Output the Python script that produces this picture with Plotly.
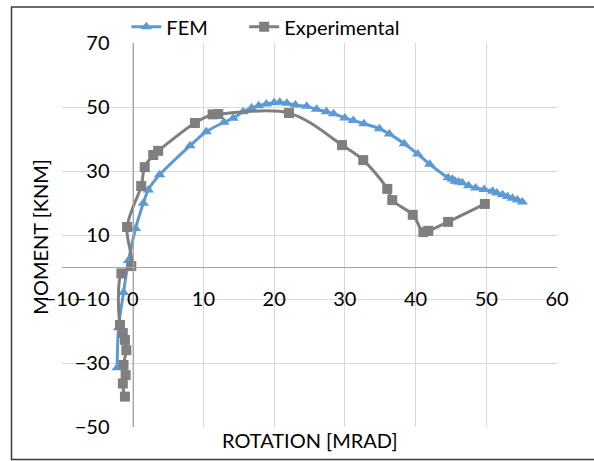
import plotly.graph_objects as go

# FEM series (rotation in mrad, moment in kNm)
fem_x = [-2.2, -2.0, -1.3, -0.6, 0.4, 1.5, 2.2, 3.8, 8.1, 10.4, 12.9, 14.2, 15.6, 16.8,
         17.8, 18.9, 20.0, 20.8, 21.8, 23.0, 24.6, 26.0, 27.4, 28.4, 30.0, 31.2, 32.7,
         34.9, 36.3, 38.4, 40.3, 42.0, 44.6, 45.2, 45.6, 46.1, 46.6, 47.5, 48.5, 49.7,
         50.9, 51.5, 52.3, 53.0, 53.7, 54.4, 55.1]
fem_y = [-31.5, -19.0, -8.0, 2.0, 12.0, 19.9, 24.1, 28.8, 37.9, 42.3, 45.2, 46.5, 48.5, 49.7,
         50.4, 50.9, 51.3, 51.5, 51.2, 50.6, 50.2, 49.3, 48.5, 47.9, 46.6, 45.8, 44.8,
         43.2, 41.6, 38.5, 35.3, 32.1, 27.9, 27.4, 26.8, 26.6, 26.3, 25.4, 24.7, 24.2,
         23.7, 23.1, 22.6, 22.0, 21.5, 20.9, 20.3]

# Experimental series
exp_x = [-1.1, -1.4, -1.0, -1.3, -0.9, -1.1, -1.4, -1.8, -1.6, -0.2, -0.8, 1.2, 1.7, 2.9,
         3.6, 8.8, 11.3, 12.1, 22.1, 29.6, 32.6, 36.0, 36.7, 39.6, 41.1, 41.8, 44.6, 49.8]
exp_y = [-40.5, -36.4, -33.8, -30.6, -26.0, -22.8, -20.6, -18.1, -2.0, 0.3, 12.5, 25.3, 31.2,
         35.0, 36.3, 45.0, 47.7, 47.8, 48.1, 38.1, 33.4, 24.4, 20.9, 16.3, 10.9, 11.3, 14.1, 19.7]

x_ticks = [-10, 0, 10, 20, 30, 40, 50, 60]
y_ticks = [-50, -30, -10, 10, 30, 50, 70]

FONT = "Lato"
BLUE = "#5B9BD5"
GRAY = "#7F7F7F"

fig = go.Figure()
fig.add_trace(go.Scatter(
    x=fem_x, y=fem_y, name="FEM", mode="lines+markers", legend="legend",
    line=dict(color=BLUE, width=3, shape="spline"),
    marker=dict(symbol="triangle-up", size=10, color=BLUE),
))
fig.add_trace(go.Scatter(
    x=exp_x, y=exp_y, name="Experimental", mode="lines+markers", legend="legend2",
    line=dict(color=GRAY, width=3, shape="spline"),
    marker=dict(symbol="square", size=10, color=GRAY),
))

leg_common = dict(orientation="h", y=1.042, xanchor="left", yanchor="middle",
                  font=dict(size=20), bgcolor="rgba(0,0,0,0)")

fig.update_layout(
    width=594, height=461,
    margin=dict(l=62, r=37, t=43, b=34, autoexpand=False),
    paper_bgcolor="white", plot_bgcolor="white",
    font=dict(family=FONT, size=20, color="#000000"),
    showlegend=True,
    legend=dict(x=0.13, **leg_common),
    legend2=dict(x=0.368, **leg_common),
    xaxis=dict(range=[-10, 60], tickvals=x_ticks, showgrid=True, gridcolor="#D9D9D9",
               gridwidth=1.3, zeroline=False, showline=True, linecolor="#A6A6A6",
               linewidth=1.3, anchor="free", position=50 / 120, ticks="",
               ticklabelstandoff=14, tickfont=dict(size=20), automargin=False),
    yaxis=dict(range=[-50, 70], tickvals=y_ticks, showgrid=True, gridcolor="#D9D9D9",
               gridwidth=1.3, zeroline=False, showline=True, linecolor="#A6A6A6",
               linewidth=1.3, anchor="free", position=10 / 70, ticks="",
               ticklabelstandoff=19, tickfont=dict(size=20), automargin=False),
    annotations=[
        dict(text="ROTATION [MRAD]", xref="paper", yref="paper", x=0.501, y=-0.034,
             xanchor="center", yanchor="middle", showarrow=False, font=dict(size=20)),
        dict(text="MOMENT [KNM]", xref="paper", yref="paper", x=-0.045, y=0.495,
             xanchor="center", yanchor="middle", textangle=-90, showarrow=False,
             font=dict(size=20)),
    ],
    shapes=[
        dict(type="rect", xref="paper", yref="paper", x0=-0.102, x1=1.0788,
             y0=-0.0846, y1=1.0937, line=dict(color="#3A3A3A", width=1.5)),
    ],
)

fig.write_html("out.html", config={"displayModeBar": False},
               post_script="document.body.style.margin='0';")
